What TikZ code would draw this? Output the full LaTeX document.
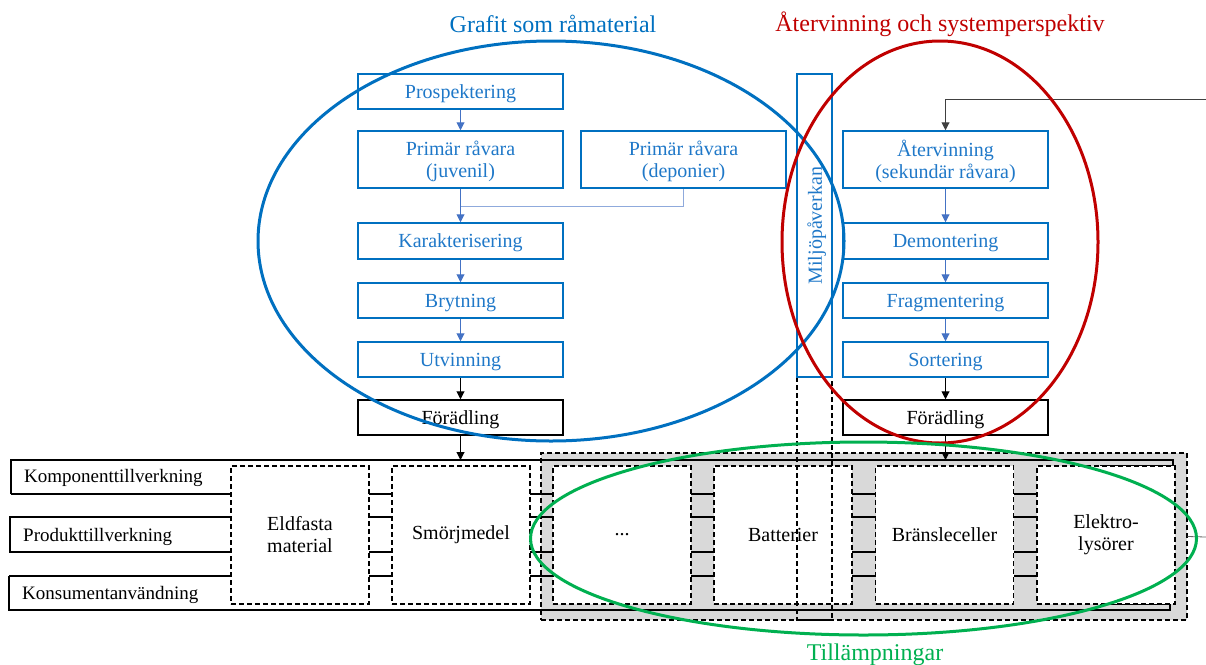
\documentclass[tikz,border=0pt]{standalone}
\usepackage{fontspec}
\setmainfont{Liberation Serif}
\usetikzlibrary{arrows.meta}
\definecolor{boxblue}{HTML}{0070C0}
\definecolor{txtblue}{HTML}{1F78C8}
\definecolor{arrblue}{HTML}{4472C4}
\definecolor{lineblue}{HTML}{8FAADC}
\definecolor{ellred}{HTML}{C00000}
\definecolor{ellgreen}{HTML}{00B050}
\definecolor{bandgray}{HTML}{D9D9D9}
\begin{document}
\begin{tikzpicture}[x=1pt,y=-1pt,
  dsh/.style={line width=1.3pt,dash pattern=on 5pt off 3pt},
  bbox/.style={draw=boxblue,line width=1.5pt,text=txtblue,minimum width=205pt,minimum height=35pt,inner sep=0pt,align=center,text depth=0pt,font=\fontsize{20}{22}\selectfont},
  kbox/.style={bbox,draw=black,text=black},
  appbox/.style={draw=black,fill=white,dsh,minimum width=138pt,minimum height=138pt,inner sep=0pt,align=center,font=\fontsize{20}{22}\selectfont},
  lab/.style={anchor=west,inner sep=0pt,font=\fontsize{19}{21}\selectfont},
  barrow/.style={draw=arrblue,line width=1pt,-{Triangle[width=8pt,length=8pt]}},
  karrow/.style={draw=black,line width=1pt,-{Triangle[width=8pt,length=8pt]}},
  solidln/.style={line width=1.3pt},
  ttl/.style={font=\fontsize{24}{26}\selectfont,inner sep=0pt}
]
\useasboundingbox (0,0) rectangle (1206,664);

% grey applications band
\node[draw=black,fill=bandgray,dsh,minimum width=646pt,minimum height=167pt,inner sep=0pt] (band) at (864,536.5) {};

% solid layer lines
\draw[solidln] (11,494) -- (11,460) -- (1173,460) -- (1173,466) -- (1100,466);
\draw[solidln] (9,576) -- (9,610) -- (1170,610) -- (1170,604) -- (1100,604);
\draw[solidln] (11,494) -- (1037,494);
\draw[solidln] (1037,517) -- (10,517) -- (10,552) -- (1037,552);
\draw[solidln] (9,576) -- (1037,576);

% layer labels
\node[lab] (komp) at (24,478) {Komponenttillverkning};
\node[lab] (prod) at (23,536.5) {Produkttillverkning};
\node[lab] (kons) at (22,595) {Konsumentanvändning};

% application boxes
\node[appbox] (eld) at (300,535) {Eldfasta\\material};
\node[appbox] (smo) at (461,535) {Smörjmedel};
\node[appbox] (dots) at (622,535) {...};
\node[appbox] (bat) at (783,535) {Batterier};
\node[appbox] (bra) at (944.5,535) {Bränsleceller};
\node[appbox] (ele) at (1106,535) {Elektro-\\lysörer};

% Miljöpåverkan column
\coordinate (mtop) at (797,377);
\coordinate (mbot) at (832,620);
\draw[dsh] (mtop) rectangle (mbot);
\node[bbox,minimum width=303pt,minimum height=35pt,rotate=90] (milj) at (814.5,225.5) {Miljöpåverkan};

% left column
\node[bbox] (pros) at (460.5,91.5) {Prospektering};
\node[bbox,minimum height=57pt] (juv) at (460.5,159.5) {Primär råvara\\(juvenil)};
\node[bbox,minimum height=57pt] (dep) at (683.5,159.5) {Primär råvara\\(deponier)};
\node[bbox,minimum height=36pt] (kar) at (460.5,241) {Karakterisering};
\node[bbox] (bry) at (460.5,300.5) {Brytning};
\node[bbox] (utv) at (460.5,359.5) {Utvinning};
\node[kbox] (forL) at (460.5,417.5) {Förädling};

\coordinate (j1) at (460.5,206);
\draw[barrow] (pros.south) -- (juv.north);
\draw[draw=lineblue,line width=1pt] (dep.south) |- (j1);
\draw[barrow] (juv.south) -- (kar.north);
\draw[barrow] (kar.south) -- (bry.north);
\draw[barrow] (bry.south) -- (utv.north);
\draw[karrow] (utv.south) -- (forL.north);
\coordinate (bl) at (460.5,460);
\draw[karrow] (forL.south) -- (bl);

% right column
\node[bbox,minimum height=57pt] (atv) at (945.5,159.5) {Återvinning\\(sekundär råvara)};
\node[bbox,minimum height=36pt] (dem) at (945.5,241) {Demontering};
\node[bbox] (fra) at (945.5,300.5) {Fragmentering};
\node[bbox] (sor) at (945.5,359.5) {Sortering};
\node[kbox] (forR) at (945.5,417.5) {Förädling};

\coordinate (ext) at (1206,99);
\draw[karrow,draw=black!75] (ext) -| (atv.north);
\draw[barrow] (atv.south) -- (dem.north);
\draw[barrow] (dem.south) -- (fra.north);
\draw[barrow] (fra.south) -- (sor.north);
\draw[karrow] (sor.south) -- (forR.north);
\coordinate (br) at (945.5,460);
\draw[karrow] (forR.south) -- (br);

\coordinate (ext2) at (1206,537);
\draw[draw=black!60,line width=0.8pt] (band.east) -- (ext2);

% ellipses
\draw[boxblue,line width=3pt] (551,241) ellipse [x radius=293pt,y radius=200pt];
\draw[ellred,line width=3pt] (940,242) ellipse [x radius=158pt,y radius=201pt];
\draw[ellgreen,line width=3pt] (863.5,538.5) ellipse [x radius=333pt,y radius=96.5pt];

% titles
\node[ttl,text=boxblue] (t1) at (553,24) {Grafit som råmaterial};
\node[ttl,text=ellred] (t2) at (940,24) {Återvinning och systemperspektiv};
\node[ttl,text=ellgreen] (t3) at (875,655) {Tillämpningar};
\end{tikzpicture}
\end{document}
